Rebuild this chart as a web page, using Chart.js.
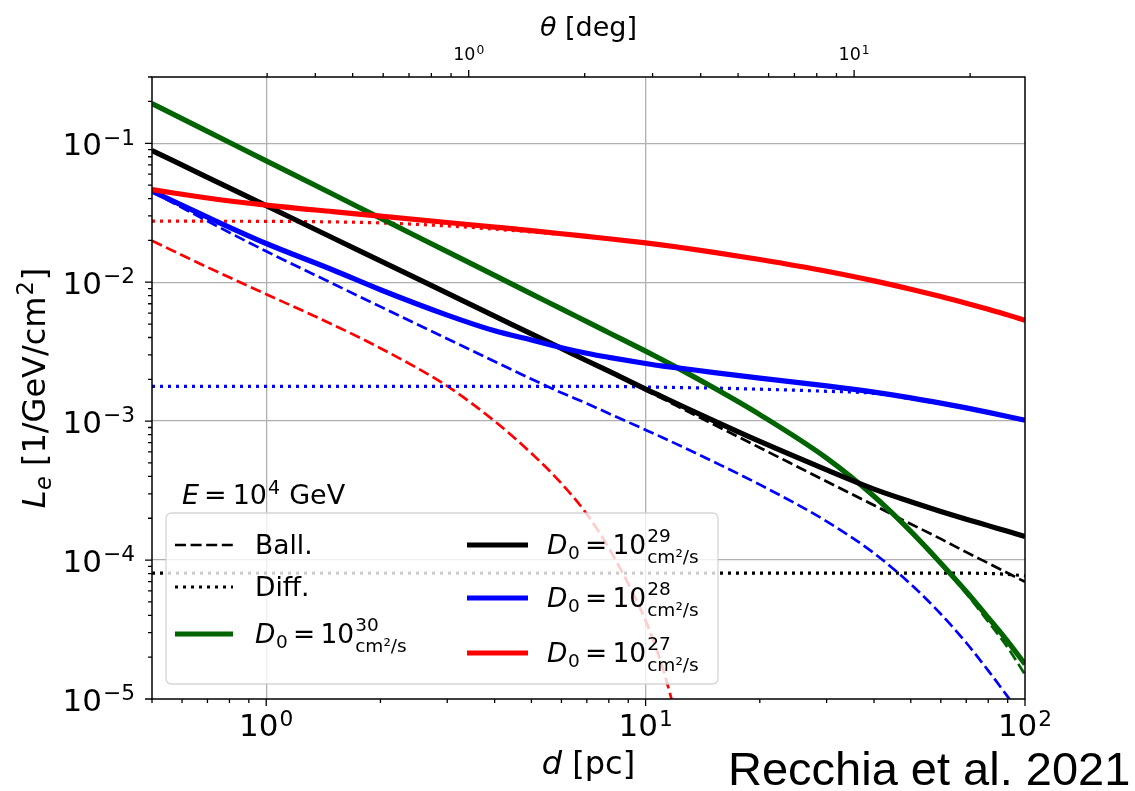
<!DOCTYPE html>
<html>
<head>
<meta charset="utf-8">
<script src="https://cdn.jsdelivr.net/npm/chart.js@4.4.1/dist/chart.umd.min.js"></script>
<style>
  html, body { margin: 0; padding: 0; background: #fff; }
  #wrap { position: relative; width: 1135px; height: 791px; }
</style>
</head>
<body>
<div id="wrap"><canvas id="lossChart" width="1135" height="791"></canvas></div>
<script>
// distance from the source [pc]
const distancePc = [0.5, 0.7, 1, 1.5, 2, 3, 4, 5, 6, 7, 8, 10, 11, 12, 15, 20, 30, 40, 50, 60, 70, 80, 90, 100];

// D0 = 1e30 cm^2/s
const fullD30 = [0.1932, 0.1219, 0.0748, 0.043, 0.0289, 0.0166, 0.0112, 0.00824, 0.00643, 0.0052, 0.00433, 0.00319, 0.00279, 0.00246, 0.00176, 0.001114, 5.42e-4, 2.88e-4, 1.61e-4, 9.5e-5, 5.94e-5, 3.85e-5, 2.6e-5, 1.78e-5];
const ballD30 = [0.1932, 0.1219, 0.0748, 0.043, 0.0289, 0.0166, 0.0112, 0.00824, 0.00643, 0.0052, 0.00433, 0.00319, 0.00279, 0.00246, 0.00176, 0.001114, 5.42e-4, 2.88e-4, 1.6e-4, 9.3e-5, 5.75e-5, 3.6e-5, 2.35e-5, 1.5e-5];

// D0 = 1e29
const fullD29 = [0.0887, 0.0569, 0.0356, 0.0208, 0.01426, 0.00834, 0.0057, 0.00425, 0.00334, 0.00272, 0.00229, 0.0017, 0.00151, 0.00135, 0.001016, 7.14e-4, 4.46e-4, 3.24e-4, 2.63e-4, 2.24e-4, 1.97e-4, 1.77e-4, 1.61e-4, 1.48e-4];
const ballD29 = [0.0887, 0.0569, 0.0356, 0.0208, 0.01426, 0.00834, 0.0057, 0.00425, 0.00333, 0.00271, 0.00226, 0.001667, 0.001466, 0.0013, 9.57e-4, 6.44e-4, 3.68e-4, 2.48e-4, 1.82e-4, 1.42e-4, 1.14e-4, 9.5e-5, 8.07e-5, 6.97e-5];
const diffD29 = [8.05e-5, 8.05e-5, 8.05e-5, 8.05e-5, 8.05e-5, 8.05e-5, 8.05e-5, 8.05e-5, 8.05e-5, 8.05e-5, 8.05e-5, 8.05e-5, 8.05e-5, 8.05e-5, 8.05e-5, 8.05e-5, 8.05e-5, 8.05e-5, 8.05e-5, 8.05e-5, 8.05e-5, 8.0e-5, 7.9e-5, 7.7e-5];

// D0 = 1e28
const fullD28 = [0.0452, 0.0294, 0.019, 0.01225, 0.00883, 0.0058, 0.00447, 0.00384, 0.00338, 0.00308, 0.00288, 0.0026, 0.0025, 0.00243, 0.002244, 0.00204, 0.001795, 0.001618, 0.001472, 0.001349, 0.001245, 0.001156, 0.001081, 0.001016];
const ballD28 = [0.0449, 0.02754, 0.0167, 0.00975, 0.00667, 0.00392, 0.00269, 0.00201, 0.0016, 0.00134, 0.001135, 8.65e-4, 7.69e-4, 6.89e-4, 5.15e-4, 3.49e-4, 1.9e-4, 1.12e-4, 6.7e-5, 4.09e-5, 2.54e-5, 1.6e-5, 1.04e-5, 6.9e-6];
const diffD28 = [0.00178, 0.00178, 0.00178, 0.00178, 0.00178, 0.00178, 0.00178, 0.00178, 0.00178, 0.00178, 0.00178, 0.00176, 0.001755, 0.001746, 0.00173, 0.001698, 0.00164, 0.001585, 0.00145, 0.001334, 0.001233, 0.001148, 0.001074, 0.001009];

// D0 = 1e27
const fullD27 = [0.04645, 0.04036, 0.0359, 0.0322, 0.0299, 0.0269, 0.02494, 0.0235, 0.02234, 0.02136, 0.02055, 0.01919, 0.01858, 0.018, 0.01648, 0.01456, 0.012, 0.01023, 0.00891, 0.00789, 0.00706, 0.00638, 0.00582, 0.00533];
const ballD27 = [0.01986, 0.01282, 0.0082, 0.00494, 0.00335, 0.001787, 0.001, 5.87e-4, 3.56e-4, 2.14e-4, 1.22e-4, 3.66e-5, 1.8e-5, 7.8e-6, null, null, null, null, null, null, null, null, null, null];
const diffD27 = [0.02748, 0.02748, 0.02742, 0.02716, 0.02673, 0.02541, 0.0241, 0.02301, 0.02208, 0.02118, 0.02042, 0.0191, 0.0185, 0.01792, 0.0164, 0.01449, 0.01195, 0.01018, 0.00887, 0.00785, 0.00703, 0.00635, 0.00579, 0.0053];

// axis limits
const xMin = 0.5, xMax = 100;
const yMin = 1e-5, yMax = 0.3;
const sourceDistPc = 190; // for the angular (top) axis
const toDeg = d => Math.atan(d / sourceDistPc) * 180 / Math.PI;

const GREEN = '#006400', BLACK = '#000000', BLUE = '#0000ff', RED = '#ff0000';
const LW_SOLID = 5.2, LW_DASH = 2.7, LW_DOT = 3.2;
const DASH = [11, 4.6], DOT = [3, 5];
const FONT = '"DejaVu Sans"';

function series(label, values, color, kind) {
    return {
        label: label,
        data: distancePc.map((d, i) => ({ x: d, y: values[i] })),
        borderColor: color,
        borderWidth: kind === 'full' ? LW_SOLID : (kind === 'ball' ? LW_DASH : LW_DOT),
        borderDash: kind === 'full' ? [] : (kind === 'ball' ? DASH : DOT),
        borderCapStyle: 'butt',
        borderJoinStyle: 'round',
        pointRadius: 0,
        fill: false,
        cubicInterpolationMode: 'monotone',
        clip: 0
    };
}

function isPow10(v) {
    const l = Math.log10(v);
    return Math.abs(l - Math.round(l)) < 1e-7;
}
function isNiceTick(v) {
    const e = Math.floor(Math.log10(v) + 1e-9);
    const m = v / Math.pow(10, e);
    return Math.abs(m - Math.round(m)) < 1e-6 && Math.round(m) <= 9;
}
function gridColor(lo, hi) {
    return ctx => {
        const v = ctx.tick && ctx.tick.value;
        return (v && isPow10(v) && v > lo * 1.0001 && v < hi * 0.9999) ? '#b0b0b0' : 'rgba(0,0,0,0)';
    };
}

// --- text helpers (mathtext-like runs) ---
function setFont(ctx, size, italic, family) {
    ctx.font = (italic ? 'italic ' : '') + size.toFixed(1) + 'px ' + (family || FONT);
}
function measureRuns(ctx, runs) {
    let w = 0;
    runs.forEach(r => {
        w += r.gap || 0;
        setFont(ctx, r.s, r.it);
        if (r.stack) {
            r.w = Math.max(ctx.measureText(r.stack[0]).width, ctx.measureText(r.stack[1]).width);
        } else {
            r.w = ctx.measureText(r.t).width;
        }
        w += r.w;
    });
    return w;
}
function drawRuns(ctx, x, y, runs, align) {
    const total = measureRuns(ctx, runs);
    let cx = align === 'center' ? x - total / 2 : (align === 'right' ? x - total : x);
    ctx.textAlign = 'left';
    ctx.textBaseline = 'alphabetic';
    runs.forEach(r => {
        cx += r.gap || 0;
        setFont(ctx, r.s, r.it);
        if (r.stack) {
            ctx.fillText(r.stack[0], cx, y - r.up);
            ctx.fillText(r.stack[1], cx, y + r.down);
        } else {
            ctx.fillText(r.t, cx, y - (r.dy || 0));
        }
        cx += r.w;
    });
}
function powRuns(exp, s) {
    const e = exp < 0 ? '\u2212' + Math.abs(exp) : String(exp);
    return [{ t: '10', s: s }, { t: e, s: s * 0.7, dy: s * 0.33, gap: 1 }];
}
function d0Runs(exp, s) {
    return [
        { t: 'D', s: s, it: true },
        { t: '0', s: s * 0.7, dy: -s * 0.2, gap: 0.5 },
        { t: '=', s: s, gap: s * 0.2 },
        { t: '10', s: s, gap: s * 0.2 },
        { stack: [String(exp), 'cm\u00b2/s'], s: s * 0.7, up: s * 0.45, down: s * 0.33, gap: 1 }
    ];
}

// legend rows: line style + text
const legendLeft = [
    { color: BLACK, width: LW_DASH, dash: DASH, runs: s => [{ t: 'Ball.', s: s }] },
    { color: BLACK, width: LW_DOT, dash: DOT, runs: s => [{ t: 'Diff.', s: s }] },
    { color: GREEN, width: LW_SOLID, dash: [], runs: s => d0Runs(30, s) }
];
const legendRight = [
    { color: BLACK, width: LW_SOLID, dash: [], runs: s => d0Runs(29, s) },
    { color: BLUE, width: LW_SOLID, dash: [], runs: s => d0Runs(28, s) },
    { color: RED, width: LW_SOLID, dash: [], runs: s => d0Runs(27, s) }
];

function roundRect(ctx, x, y, w, h, r) {
    ctx.beginPath();
    ctx.moveTo(x + r, y);
    ctx.lineTo(x + w - r, y);
    ctx.quadraticCurveTo(x + w, y, x + w, y + r);
    ctx.lineTo(x + w, y + h - r);
    ctx.quadraticCurveTo(x + w, y + h, x + w - r, y + h);
    ctx.lineTo(x + r, y + h);
    ctx.quadraticCurveTo(x, y + h, x, y + h - r);
    ctx.lineTo(x, y + r);
    ctx.quadraticCurveTo(x, y, x + r, y);
    ctx.closePath();
}

const decor = {
    id: 'decor',
    afterDatasetsDraw(chart) {
        const ctx = chart.ctx;
        const a = chart.chartArea;
        const xs = chart.scales.x, ys = chart.scales.y, ts = chart.scales.xTheta;
        ctx.save();

        // legend box
        roundRect(ctx, 166, 513, 552, 171, 6);
        ctx.fillStyle = 'rgba(255,255,255,0.8)';
        ctx.fill();
        ctx.lineWidth = 1.3;
        ctx.strokeStyle = 'rgba(204,204,204,0.8)';
        ctx.stroke();

        const drawRow = (row, x0, x1, ly, tx) => {
            ctx.beginPath();
            ctx.setLineDash(row.dash);
            ctx.lineWidth = row.width;
            ctx.strokeStyle = row.color;
            ctx.lineCap = 'butt';
            ctx.moveTo(x0, ly);
            ctx.lineTo(x1, ly);
            ctx.stroke();
            ctx.setLineDash([]);
            ctx.fillStyle = '#000';
            drawRuns(ctx, tx, ly + 9, row.runs(26.5), 'left');
        };
        [545, 587, 634].forEach((ly, i) => drawRow(legendLeft[i], 175, 233, ly, 255));
        [545, 598, 653].forEach((ly, i) => drawRow(legendRight[i], 467, 528, ly, 547));

        // energy note
        ctx.fillStyle = '#000';
        drawRuns(ctx, 182, 504, [
            { t: 'E', s: 27, it: true },
            { t: '=', s: 27, gap: 5 },
            { t: '10', s: 27, gap: 6 },
            { t: '4', s: 19, dy: 10, gap: 1 },
            { t: 'GeV', s: 27, gap: 9 }
        ], 'left');

        // frame
        ctx.strokeStyle = '#000';
        ctx.lineWidth = 1.5;
        ctx.strokeRect(a.left, a.top, a.right - a.left, a.bottom - a.top);

        // tick marks
        ctx.lineWidth = 1.3;
        ctx.beginPath();
        xs.ticks.forEach(t => {
            if (!isNiceTick(t.value)) return;
            const p = xs.getPixelForValue(t.value);
            const len = isPow10(t.value) ? 7 : 4;
            ctx.moveTo(p, a.bottom); ctx.lineTo(p, a.bottom + len);
        });
        ys.ticks.forEach(t => {
            if (!isNiceTick(t.value)) return;
            const p = ys.getPixelForValue(t.value);
            const len = isPow10(t.value) ? 7 : 4;
            ctx.moveTo(a.left - len, p); ctx.lineTo(a.left, p);
        });
        ts.ticks.forEach(t => {
            if (!isNiceTick(t.value)) return;
            const p = ts.getPixelForValue(t.value);
            const len = isPow10(t.value) ? 7 : 4;
            ctx.moveTo(p, a.top - len); ctx.lineTo(p, a.top);
        });
        ctx.stroke();

        // tick labels
        ctx.fillStyle = '#000';
        xs.ticks.forEach(t => {
            if (!isPow10(t.value)) return;
            drawRuns(ctx, xs.getPixelForValue(t.value), 736, powRuns(Math.round(Math.log10(t.value)), 31), 'center');
        });
        ys.ticks.forEach(t => {
            if (!isPow10(t.value)) return;
            drawRuns(ctx, 135, ys.getPixelForValue(t.value) + 11.5, powRuns(Math.round(Math.log10(t.value)), 31), 'right');
        });
        ts.ticks.forEach(t => {
            if (!isPow10(t.value)) return;
            drawRuns(ctx, ts.getPixelForValue(t.value), 60, powRuns(Math.round(Math.log10(t.value)), 17.5), 'center');
        });

        // axis titles
        const cxMid = (a.left + a.right) / 2;
        drawRuns(ctx, cxMid, 774, [{ t: 'd', s: 32, it: true }, { t: ' [pc]', s: 32 }], 'center');
        drawRuns(ctx, cxMid, 36, [{ t: '\u03b8', s: 27, it: true }, { t: ' [deg]', s: 27 }], 'center');
        ctx.save();
        ctx.translate(45, (a.top + a.bottom) / 2);
        ctx.rotate(-Math.PI / 2);
        drawRuns(ctx, 0, 0, [
            { t: 'L', s: 32, it: true },
            { t: 'e', s: 22.4, it: true, dy: -6, gap: 0.5 },
            { t: ' [1/GeV/cm', s: 32 },
            { t: '2', s: 22.4, dy: 12, gap: 1 },
            { t: ']', s: 32, gap: 1 }
        ], 'center');
        ctx.restore();

        // reference
        ctx.font = '47px "Liberation Sans"';
        ctx.textAlign = 'left';
        ctx.fillText('Recchia et al. 2021', 728, 785);

        ctx.restore();
    }
};

new Chart(document.getElementById('lossChart'), {
    type: 'line',
    data: {
        datasets: [
            series('D0=1e27 full', fullD27, RED, 'full'),
            series('D0=1e28 full', fullD28, BLUE, 'full'),
            series('D0=1e29 full', fullD29, BLACK, 'full'),
            series('D0=1e30 full', fullD30, GREEN, 'full'),
            series('D0=1e30 ball.', ballD30, GREEN, 'ball'),
            series('D0=1e29 ball.', ballD29, BLACK, 'ball'),
            series('D0=1e29 diff.', diffD29, BLACK, 'diff'),
            series('D0=1e28 ball.', ballD28, BLUE, 'ball'),
            series('D0=1e28 diff.', diffD28, BLUE, 'diff'),
            series('D0=1e27 ball.', ballD27, RED, 'ball'),
            series('D0=1e27 diff.', diffD27, RED, 'diff')
        ]
    },
    options: {
        responsive: false,
        animation: false,
        devicePixelRatio: 1,
        layout: { padding: { left: 0, top: 0, right: 110, bottom: 0 } },
        plugins: {
            legend: { display: false },
            tooltip: { enabled: false }
        },
        scales: {
            x: {
                type: 'logarithmic',
                position: 'bottom',
                min: xMin,
                max: xMax,
                ticks: { display: false },
                grid: { color: gridColor(xMin, xMax), lineWidth: 1.3, drawTicks: false },
                border: { display: false },
                afterFit: s => { s.height = 92; }
            },
            xTheta: {
                axis: 'x',
                type: 'logarithmic',
                position: 'top',
                min: toDeg(xMin),
                max: toDeg(xMax),
                ticks: { display: false },
                grid: { display: false, drawTicks: false },
                border: { display: false },
                afterFit: s => { s.height = 77; }
            },
            y: {
                type: 'logarithmic',
                position: 'left',
                min: yMin,
                max: yMax,
                ticks: { display: false },
                grid: { color: gridColor(yMin, yMax), lineWidth: 1.3, drawTicks: false },
                border: { display: false },
                afterFit: s => { s.width = 152; }
            }
        }
    },
    plugins: [decor]
});
</script>
</body>
</html>
